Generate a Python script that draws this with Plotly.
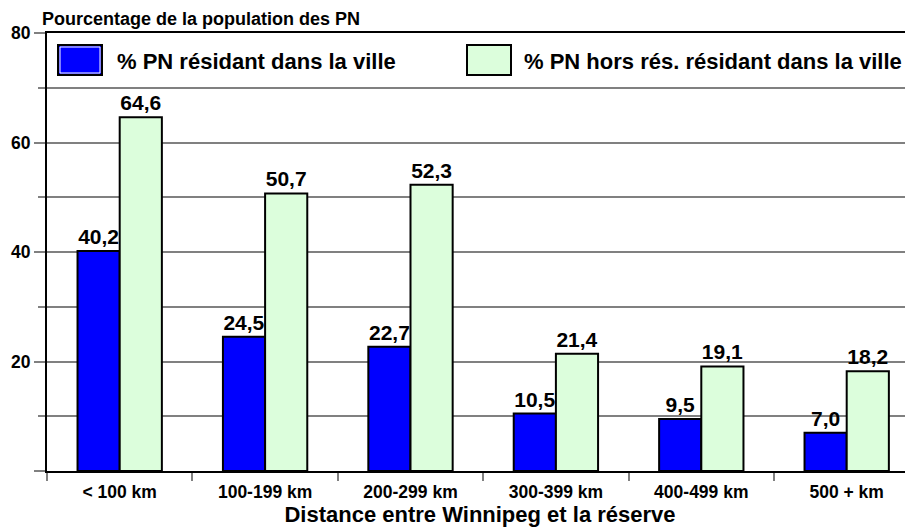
import plotly.graph_objects as go

# ---- data ----
categories = ["< 100 km", "100-199 km", "200-299 km", "300-399 km", "400-499 km", "500 + km"]
pn_ville = [40.2, 24.5, 22.7, 10.5, 9.5, 7.0]
pn_hors_res = [64.6, 50.7, 52.3, 21.4, 19.1, 18.2]
series_names = ["% PN résidant dans la ville", "% PN hors rés. résidant dans la ville"]
series_colors = ["#0000FF", "#DCFEDC"]
y_tick_vals = [0, 20, 40, 60, 80]
y_tick_text = ["", "20", "40", "60", "80"]
y_title = "Pourcentage de la population des PN"
x_title = "Distance entre Winnipeg et la réserve"

FONT = "Liberation Sans, Arial, Helvetica, sans-serif"
GRAY = "#808080"

# the page body adds an 8px offset; size the figure so it fills the 913x529 window
OFF = 8
WIN_W, WIN_H = 913, 529
W, H = WIN_W - OFF, WIN_H - OFF
PLOT_L, PLOT_R, PLOT_T, PLOT_B = 47, 913, 33, 471   # window pixel coordinates
ML, MR, MT, MB = PLOT_L - OFF, WIN_W - PLOT_R, PLOT_T - OFF, WIN_H - PLOT_B
PW, PH = PLOT_R - PLOT_L, PLOT_B - PLOT_T


def px_x(p):
    return (p - PLOT_L) / PW


def px_y(p):
    return (PLOT_B - p) / PH


fig = go.Figure()
for vals, name, color in zip([pn_ville, pn_hors_res], series_names, series_colors):
    fig.add_bar(
        x=categories,
        y=vals,
        name=name,
        marker=dict(color=color, line=dict(color="black", width=2)),
        texttemplate="%{y:.1f}",
        textposition="outside",
        constraintext="none",
        textfont=dict(family=FONT, size=21, color="black", weight=700),
        cliponaxis=False,
        showlegend=False,
    )

# custom legend (large swatches like the original)
legend_swatch_x = [(58, 102), (467, 511)]
legend_text_x = [116, 523]
shapes = []
annotations = []
for i, ((x0, x1), tx, name, color) in enumerate(zip(legend_swatch_x, legend_text_x, series_names, series_colors)):
    shapes.append(dict(type="rect", xref="paper", yref="paper",
                       x0=px_x(x0), x1=px_x(x1), y0=px_y(75), y1=px_y(45),
                       fillcolor=color, line=dict(color="black", width=2), layer="above"))
    if i == 0:
        shapes.append(dict(type="rect", xref="paper", yref="paper",
                           x0=px_x(x0 + 2), x1=px_x(x1 - 2), y0=px_y(73), y1=px_y(47),
                           fillcolor="rgba(0,0,0,0)", line=dict(color="white", width=1), layer="above"))
    annotations.append(dict(text=name, xref="paper", yref="paper", x=px_x(tx), y=px_y(62),
                            xanchor="left", yanchor="middle", showarrow=False, borderpad=0,
                            font=dict(family=FONT, size=22, color="black", weight=700)))

annotations.append(dict(text=y_title, xref="paper", yref="paper", x=px_x(41), y=px_y(OFF + 0.5),
                        xanchor="left", yanchor="top", showarrow=False, borderpad=0,
                        font=dict(family=FONT, size=18, color="black", weight=700)))

fig.update_layout(
    width=W, height=H,
    margin=dict(l=ML, r=MR, t=MT, b=MB, pad=0),
    paper_bgcolor="white", plot_bgcolor="white",
    barmode="group", bargap=0.42, bargroupgap=0.0,
    separators=", ",
    font=dict(family=FONT, color="black"),
    shapes=shapes,
    annotations=annotations,
    xaxis=dict(
        type="category",
        range=[-0.5, -0.5 + PW / 145.4],
        showline=True, linecolor="black", linewidth=2, mirror=True,
        ticks="outside", tickson="boundaries", ticklen=8, tickwidth=2, tickcolor=GRAY,
        ticklabelstandoff=4,
        tickfont=dict(family=FONT, size=17.5, color="black", weight=700),
        showgrid=False, zeroline=False,
        title=dict(text=x_title, standoff=2,
                   font=dict(family=FONT, size=22, color="black", weight=700)),
        automargin=False,
    ),
    yaxis=dict(
        range=[0, 80],
        tickmode="array", tickvals=y_tick_vals, ticktext=y_tick_text,
        ticks="outside", ticklen=11, tickwidth=2, tickcolor=GRAY,
        tickfont=dict(family=FONT, size=17.5, color="black", weight=700),
        showgrid=True, gridcolor=GRAY, gridwidth=2,
        minor=dict(tick0=0, dtick=10, ticks="outside", ticklen=7, tickwidth=2, tickcolor=GRAY,
                   showgrid=True, gridcolor=GRAY, gridwidth=2),
        showline=True, linecolor="black", linewidth=2,
        zeroline=False, automargin=False,
    ),
)

fig.write_html("out.html")
